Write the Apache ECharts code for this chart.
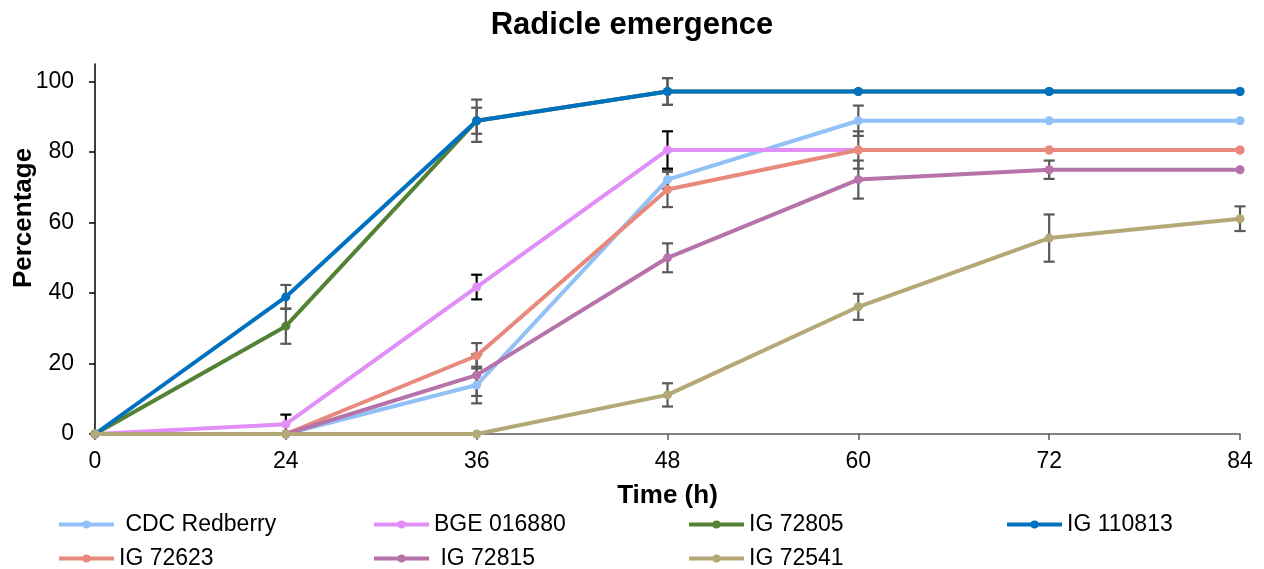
<!DOCTYPE html>
<html>
<head>
<meta charset="utf-8">
<script src="https://cdn.jsdelivr.net/npm/echarts@6/dist/echarts.min.js"></script>
<style>
html,body{margin:0;padding:0;background:#fff;}
#chart{width:1264px;height:569px;}
</style>
</head>
<body>
<div id="chart"></div>
<script>
const times = ['0', '24', '36', '48', '60', '72', '84'];
const yTicks = [0, 20, 40, 60, 80, 100];

const names = [' CDC Redberry', 'BGE 016880', 'IG 72805', 'IG 110813', 'IG 72623', ' IG 72815', 'IG 72541'];
const colors = ['#92C1F7', '#E28EF8', '#548235', '#0070C0', '#E8897B', '#B673A9', '#B3A876'];
const errColors = ['#595959', '#000000', '#595959', '#595959', '#595959', '#595959', '#595959'];

const cdcRedberry = [0, 0, 13.9, 72.2, 88.9, 88.9, 88.9];
const bge016880   = [0, 2.8, 41.7, 80.6, 80.6, 80.6, 80.6];
const ig72805     = [0, 30.6, 88.9, 97.2, 97.2, 97.2, 97.2];
const ig110813    = [0, 38.9, 88.9, 97.2, 97.2, 97.2, 97.2];
const ig72623     = [0, 0, 22.2, 69.4, 80.6, 80.6, 80.6];
const ig72815     = [0, 0, 16.7, 50.0, 72.2, 75.0, 75.0];
const ig72541     = [0, 0, 0, 11.1, 36.1, 55.6, 61.1];

const errCdcRedberry = [0, 0, 5.2, 2.6, 4.3, 0, 0];
const errBge016880   = [0, 2.7, 3.5, 5.3, 0, 0, 0];
const errIg72805     = [0, 5.0, 6.0, 3.8, 0, 0, 0];
const errIg110813    = [0, 3.4, 3.7, 3.8, 0, 0, 0];
const errIg72623     = [0, 0, 3.6, 5.0, 5.3, 0, 0];
const errIg72815     = [0, 0, 5.9, 4.1, 5.4, 2.6, 0];
const errIg72541     = [0, 0, 0, 3.3, 3.7, 6.7, 3.5];

const values = [cdcRedberry, bge016880, ig72805, ig110813, ig72623, ig72815, ig72541];
const errors = [errCdcRedberry, errBge016880, errIg72805, errIg110813, errIg72623, errIg72815, errIg72541];

const FONT = "'Liberation Sans', Arial, sans-serif";

// legend placement: [left, top]
const legendPos = [[57, 513], [372, 513], [687, 513], [1005, 513], [57, 547], [372, 547], [687, 547]];

const chart = echarts.init(document.getElementById('chart'), null, {renderer: 'canvas'});

function makeErrRender(color) {
  return function (params, api) {
    const xi = api.value(0), y = api.value(1), e = api.value(2);
    const top = api.coord([xi, y + e]);
    const bot = api.coord([xi, y - e]);
    const hw = 5.5;
    const st = {stroke: color, lineWidth: 2.2};
    return {
      type: 'group',
      children: [
        {type: 'line', shape: {x1: top[0], y1: top[1], x2: bot[0], y2: bot[1]}, style: st},
        {type: 'line', shape: {x1: top[0] - hw, y1: top[1], x2: top[0] + hw, y2: top[1]}, style: st},
        {type: 'line', shape: {x1: bot[0] - hw, y1: bot[1], x2: bot[0] + hw, y2: bot[1]}, style: st}
      ]
    };
  };
}

const series = [];
names.forEach((n, i) => {
  const errData = [];
  values[i].forEach((v, j) => { if (errors[i][j] > 0) errData.push([j, v, errors[i][j]]); });
  series.push({
    name: 'err' + i,
    type: 'custom',
    renderItem: makeErrRender(errColors[i]),
    data: errData,
    encode: {x: 0, y: 1},
    z: 1,
    silent: true
  });
});
names.forEach((n, i) => {
  series.push({
    name: n,
    type: 'line',
    data: values[i],
    symbol: 'circle',
    symbolSize: 9,
    showSymbol: true,
    lineStyle: {width: 4, color: colors[i]},
    itemStyle: {color: colors[i]},
    z: 2 + i * 0.01,
    animation: false
  });
});

const legends = names.map((n, i) => ({
  data: [n],
  left: legendPos[i][0],
  top: legendPos[i][1],
  padding: 0,
  itemWidth: 55,
  itemHeight: 10,
  selectedMode: false,
  lineStyle: {width: 4},
  textStyle: {fontFamily: FONT, fontSize: 23, color: '#000'}
}));

const option = {
  animation: false,
  backgroundColor: '#fff',
  textStyle: {fontFamily: FONT},
  title: {
    text: 'Radicle emergence',
    left: 'center',
    top: 5,
    textStyle: {fontFamily: FONT, fontSize: 31, fontWeight: 'bold', color: '#000'}
  },
  legend: legends,
  grid: {left: 95, right: 24, top: 64, bottom: 135, containLabel: false},
  xAxis: {
    type: 'category',
    data: times,
    boundaryGap: false,
    name: 'Time (h)',
    nameLocation: 'middle',
    nameGap: 49,
    nameTextStyle: {fontFamily: FONT, fontSize: 26, fontWeight: 'bold', color: '#000'},
    axisLine: {lineStyle: {color: '#595959', width: 1.5}},
    axisTick: {show: true, alignWithLabel: true, length: 6, lineStyle: {color: '#595959', width: 1.5}},
    axisLabel: {fontFamily: FONT, fontSize: 23, color: '#000', margin: 16},
    splitLine: {show: false}
  },
  yAxis: {
    type: 'value',
    min: 0,
    max: 105,
    interval: 20,
    axisLine: {show: true, lineStyle: {color: '#000', width: 1.5}},
    axisTick: {show: true, length: 6, lineStyle: {color: '#000', width: 1.5}, customValues: yTicks},
    axisLabel: {fontFamily: FONT, fontSize: 23, color: '#000', margin: 21, customValues: yTicks},
    splitLine: {show: false}
  },
  graphic: [{
    type: 'text',
    x: 24,
    y: 218,
    rotation: Math.PI / 2,
    style: {
      text: 'Percentage',
      font: "bold 26px 'Liberation Sans', Arial, sans-serif",
      fill: '#000',
      align: 'center',
      verticalAlign: 'middle'
    }
  }],
  series: series
};

chart.setOption(option);
</script>
</body>
</html>
